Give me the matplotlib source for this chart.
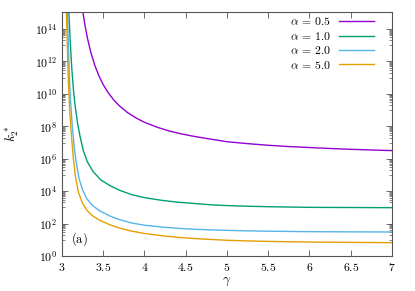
import matplotlib
matplotlib.use("Agg")
import matplotlib.pyplot as plt
import numpy as np

plt.rcParams['mathtext.fontset'] = 'cm'
plt.rcParams['font.family'] = 'serif'
plt.rcParams['font.serif'] = ['DejaVu Serif']

# values: gamma and log10(k2*)
g_05 = [3.255, 3.28, 3.31, 3.35, 3.40, 3.45, 3.50, 3.56, 3.63, 3.70, 3.80, 3.90, 4.00,
        4.15, 4.30, 4.45, 4.60, 4.80, 5.00, 5.25, 5.50, 5.75, 6.00, 6.25, 6.50, 6.75, 7.00]
k_05 = [15.05, 14.24, 13.44, 12.58, 11.75, 11.10, 10.58, 10.08, 9.62, 9.25, 8.83, 8.51, 8.25,
        7.95, 7.71, 7.53, 7.38, 7.21, 7.05, 6.93, 6.83, 6.75, 6.69, 6.63, 6.58, 6.54, 6.50]

g_10 = [3.085, 3.10, 3.12, 3.14, 3.16, 3.19, 3.22, 3.26, 3.31, 3.38, 3.47, 3.58, 3.70,
        3.85, 4.00, 4.20, 4.40, 4.60, 4.80, 5.00, 5.25, 5.50, 5.75, 6.00, 6.50, 7.00]
k_10 = [15.05, 13.4, 11.6, 10.3, 9.3, 8.2, 7.4, 6.5, 5.8, 5.2, 4.7, 4.35, 4.05,
        3.78, 3.60, 3.44, 3.32, 3.24, 3.16, 3.11, 3.07, 3.04, 3.02, 3.00, 2.99, 2.98]

g_20 = [3.068, 3.08, 3.095, 3.11, 3.13, 3.155, 3.18, 3.21, 3.25, 3.30, 3.37, 3.46, 3.58,
        3.70, 3.85, 4.00, 4.20, 4.40, 4.60, 4.80, 5.00, 5.25, 5.50, 6.00, 6.50, 7.00]
k_20 = [15.05, 12.8, 10.6, 9.2, 7.8, 6.5, 5.6, 4.75, 4.1, 3.55, 3.12, 2.78, 2.47,
        2.24, 2.03, 1.90, 1.79, 1.71, 1.65, 1.61, 1.58, 1.55, 1.53, 1.50, 1.49, 1.48]

g_50 = [3.055, 3.067, 3.08, 3.095, 3.115, 3.14, 3.165, 3.20, 3.25, 3.31, 3.38, 3.46, 3.58,
        3.70, 3.85, 4.00, 4.20, 4.40, 4.60, 4.80, 5.00, 5.25, 5.50, 6.00, 6.50, 7.00]
k_50 = [15.05, 12.8, 10.6, 9.0, 7.5, 6.0, 4.9, 3.95, 3.25, 2.78, 2.45, 2.20, 1.93,
        1.72, 1.53, 1.39, 1.26, 1.15, 1.08, 1.02, 0.97, 0.93, 0.90, 0.86, 0.84, 0.82]

labels = [r'$\alpha\,=\,0.5$', r'$\alpha\,=\,1.0$', r'$\alpha\,=\,2.0$', r'$\alpha\,=\,5.0$']
colors = ['#9400d3', '#009e73', '#56b4e9', '#e69f00']

fig = plt.figure(figsize=(4.15, 2.91), dpi=100)
ax = fig.add_axes([0.149, 0.1203, 0.7956, 0.8385])

for g, k, lab, c in zip([g_05, g_10, g_20, g_50], [k_05, k_10, k_20, k_50], labels, colors):
    ax.plot(g, 10.0 ** np.array(k), color=c, lw=1.0, label=lab)

ax.set_yscale('log')
ax.set_xlim(3, 7)
ax.set_ylim(1, 10 ** 15.05)

xt = [3, 3.5, 4, 4.5, 5, 5.5, 6, 6.5, 7]
ax.set_xticks(xt)
ax.set_xticklabels([r'$%g$' % v for v in xt], fontsize=8.5)
yt = [10.0 ** e for e in range(0, 15, 2)]
ax.set_yticks(yt)
ax.set_yticklabels([r'$10^{%d}$' % e for e in range(0, 15, 2)], fontsize=8.5)
minor = [m * 10.0 ** e for e in range(1, 15, 2) for m in range(1, 10)]
ax.yaxis.set_minor_locator(matplotlib.ticker.FixedLocator(minor))
ax.yaxis.set_minor_formatter(matplotlib.ticker.NullFormatter())
ax.xaxis.set_minor_locator(matplotlib.ticker.NullLocator())

ax.tick_params(which='both', direction='in', top=True, right=True, color='#555555')
ax.tick_params(which='major', length=4, width=0.6)
ax.tick_params(which='minor', length=2, width=0.5)
for s in ax.spines.values():
    s.set_color('#555555')
    s.set_linewidth(0.8)

ax.set_xlabel(r'$\gamma$', fontsize=9.5, labelpad=1)
ax.set_ylabel(r'$k_2^*$', fontsize=9.5, labelpad=10)

ax.text(0.027, 0.055, r'$\mathrm{(a)}$', transform=ax.transAxes, fontsize=9)

leg = ax.legend(loc='upper right', bbox_to_anchor=(0.975, 1.025), frameon=False,
                markerfirst=False, fontsize=8.5, handlelength=3.0,
                labelspacing=0.12, handletextpad=0.7, borderpad=0.3)

fig.savefig('out.png', dpi=100)
